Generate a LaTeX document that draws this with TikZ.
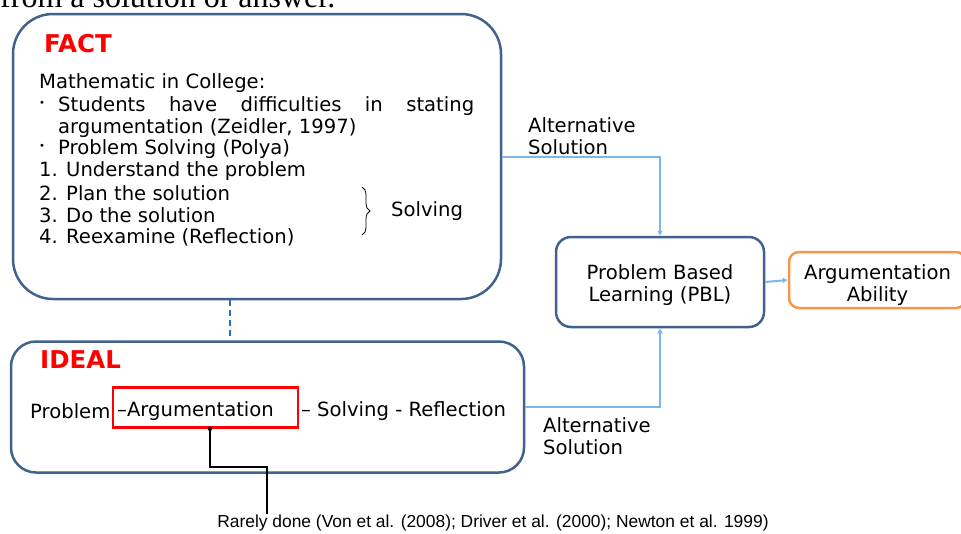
\documentclass[tikz,border=0pt]{standalone}
\usepackage{fontspec}
\setmainfont{DejaVu Sans}
\newfontfamily\notefont{Liberation Sans}
\newfontfamily\pagefont{Liberation Serif}
\usepackage{xcolor}
\usetikzlibrary{arrows.meta,calc,positioning,decorations.pathreplacing}
\definecolor{boxblue}{HTML}{41628F}
\definecolor{linkblue}{HTML}{7DB6EE}
\definecolor{dashblue}{HTML}{1F6FD6}
\definecolor{abilityorange}{HTML}{F79646}
\definecolor{headred}{HTML}{FF0000}
\tikzset{
  mainbox/.style={rectangle, draw=boxblue, line width=2.5pt, inner sep=0pt},
  ftext/.style={anchor=west, inner sep=0pt, font=\fontsize{19.6}{22}\selectfont},
  fdot/.style={inner sep=0pt, font=\fontsize{10}{10}\selectfont},
  fhead/.style={anchor=west, inner sep=0pt, text=headred, font=\fontsize{24.5}{26}\selectfont\bfseries},
  link/.style={draw=linkblue, line width=2pt},
  linkarrow/.style={link, -{Latex[length=5pt,width=6pt]}}
}

\begin{document}
\begin{tikzpicture}[x=1pt, y=-1pt]
  \useasboundingbox (0,0) rectangle (961,533);

  % page text cut off above the figure
  \node[anchor=base west, inner sep=0pt, font=\pagefont\fontsize{32}{34}\selectfont] (pageline) at (0,7) {from a solution or answer.};

  % --- FACT box ---
  \node[mainbox, minimum width=488pt, minimum height=285pt, rounded corners=40pt] (fact) at (257,156.5) {};
  \node[fhead] (facthead) at (44,44) {FACT};
  \node[ftext] (m0) at (39,83) {Mathematic in College:};
  \node[fdot] (b1) at (42,104) {•};
  \node[ftext] (m1) at (58,106) {\makebox[416pt][s]{Students have difficulties in stating}};
  \node[ftext] (m2) at (58,128) {argumentation (Zeidler, 1997)};
  \node[fdot] (b2) at (42,147) {•};
  \node[ftext] (m3) at (58,149) {Problem Solving (Polya)};
  \node[ftext] (s1) at (39,171) {1. Understand the problem};
  \node[ftext] (s2) at (39,193) {2. Plan the solution};
  \node[ftext] (s3) at (39,215) {3. Do the solution};
  \node[ftext] (s4) at (39,237) {4. Reexamine (Reflection)};
  \draw[decorate, decoration={brace, amplitude=8pt}, line width=0.8pt] (362,187) -- (362,235);
  \node[ftext] (solv) at (391,211) {Solving};

  % --- IDEAL box ---
  \node[mainbox, minimum width=513pt, minimum height=131pt, rounded corners=25pt] (ideal) at (267.5,407) {};
  \node[fhead] (idealhead) at (40,360) {IDEAL};
  \node[rectangle, draw=headred, line width=2.5pt, minimum width=185pt, minimum height=40pt, inner sep=0pt] (argfocus) at (205.5,407.5) {};
  \node[ftext] (p1) at (30,411) {Problem};
  \node[ftext] (p2) at (117,411) {–Argumentation};
  \node[ftext] (p3) at (301,411) {– Solving - Reflection};

  % dashed link between the boxes
  \coordinate (dashx) at (230,0);
  \draw[draw=dashblue, line width=2.5pt, dash pattern=on 6pt off 4pt] (fact.south -| dashx) -- (ideal.north -| dashx);

  % note on argumentation
  \node[inner sep=1pt, font=\notefont\fontsize{17.4}{19}\selectfont] (note) at (493,523) {Rarely done (Von et al. (2008); Driver et al. (2000); Newton et al. 1999)};
  \coordinate (elbow) at (267,467);
  \fill ([xshift=4.5pt]argfocus.south) circle (2.2pt);
  \draw[line width=2pt, black] ([xshift=4.5pt]argfocus.south) |- (elbow) -- (elbow |- note.north);

  % --- PBL and ability ---
  \node[mainbox, minimum width=208pt, minimum height=90pt, rounded corners=15pt] (pbl) at (660,282) {};
  \node[align=center, inner sep=0pt, font=\fontsize{19.6}{22}\selectfont] (pbltext) at (660,285) {Problem Based\\Learning (PBL)};
  \node[rectangle, draw=abilityorange, line width=2.5pt, minimum width=177pt, minimum height=56pt, rounded corners=10pt, inner sep=0pt] (ability) at (877.5,280) {};
  \node[align=center, inner sep=0pt, font=\fontsize{19.6}{22}\selectfont] (abilitytext) at (877.5,285) {Argumentation\\Ability};

  \draw[linkarrow] (fact.east) -| (pbl.north);
  \draw[linkarrow] (ideal.east) -| (pbl.south);
  \draw[linkarrow] (pbl.east) -- (ability.west);
  \node[anchor=west, inner sep=0pt, align=left, font=\fontsize{19.6}{22}\selectfont] (alttop) at (528,136) {Alternative\\Solution};
  \node[anchor=west, inner sep=0pt, align=left, font=\fontsize{19.6}{22}\selectfont] (altbot) at (543,436) {Alternative\\Solution};

\end{tikzpicture}
\end{document}
